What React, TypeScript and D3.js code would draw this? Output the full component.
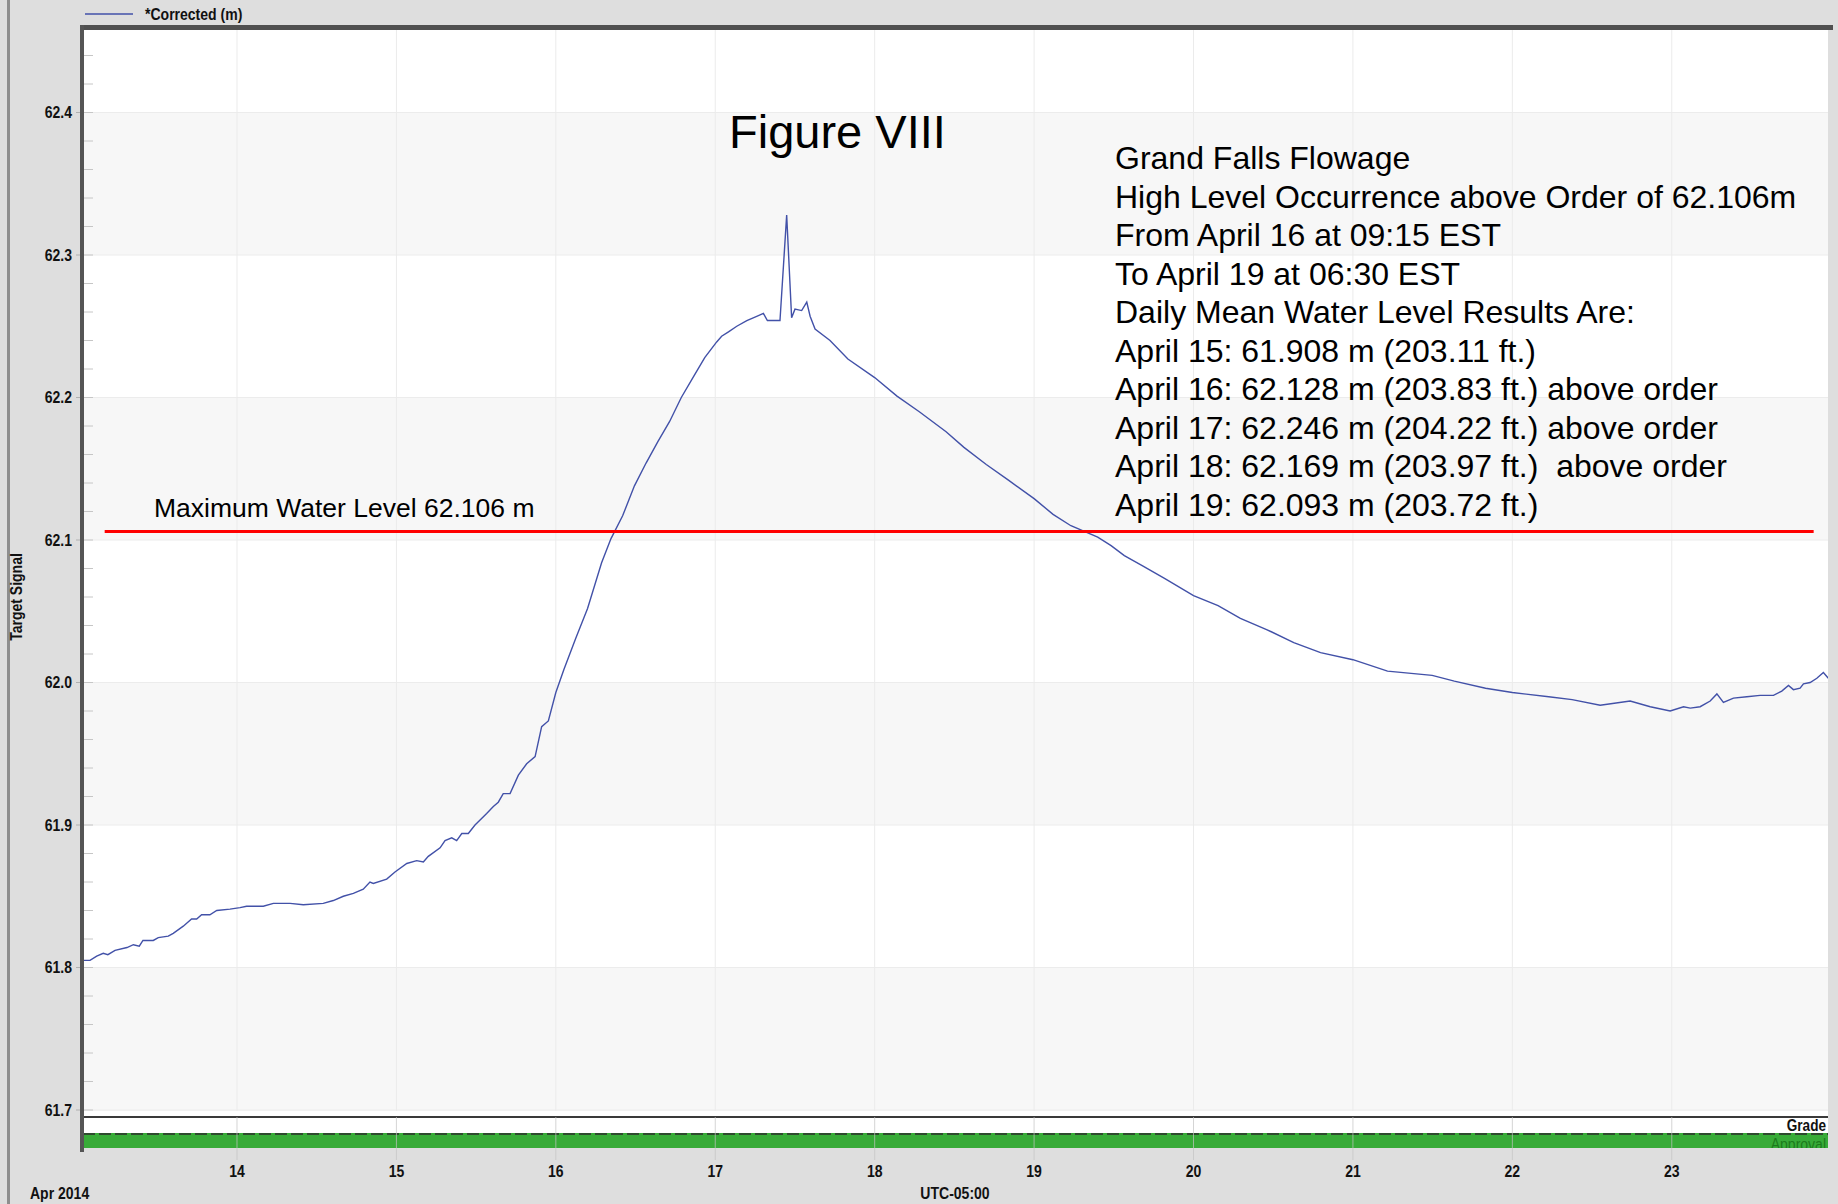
import React from "react";
import * as d3 from "d3";

// day of April 2014 (decimal) and corrected water level (m)
const days = [
  13.036, 13.078, 13.12, 13.161, 13.19, 13.235, 13.31, 13.35, 13.387, 13.41,
  13.475, 13.506, 13.569, 13.6, 13.663, 13.715, 13.747, 13.778, 13.83, 13.873,
  13.956, 14.019, 14.06, 14.165, 14.228, 14.333, 14.416, 14.541, 14.604, 14.667,
  14.73, 14.792, 14.834, 14.855, 14.939, 14.991, 15.065, 15.127, 15.169, 15.2,
  15.274, 15.305, 15.347, 15.378, 15.41, 15.451, 15.493, 15.566, 15.608, 15.639,
  15.67, 15.713, 15.765, 15.817, 15.87, 15.911, 15.953, 16.0, 16.05, 16.125,
  16.199, 16.287, 16.346, 16.419, 16.493, 16.566, 16.64, 16.713, 16.787, 16.86,
  16.934, 17.009, 17.04, 17.083, 17.135, 17.198, 17.26, 17.302, 17.327, 17.406,
  17.448, 17.479, 17.5, 17.542, 17.574, 17.595, 17.626, 17.72, 17.832, 18.0,
  18.14, 18.28, 18.448, 18.56, 18.7, 18.839, 19.0, 19.119, 19.231, 19.399,
  19.483, 19.566, 19.678, 19.818, 20.0, 20.154, 20.294, 20.462, 20.629, 20.797,
  21.0, 21.217, 21.497, 21.636, 21.832, 22.0, 22.228, 22.375, 22.551, 22.739,
  22.865, 22.99, 23.074, 23.116, 23.178, 23.241, 23.283, 23.324, 23.387, 23.471,
  23.554, 23.638, 23.69, 23.732, 23.763, 23.805, 23.826, 23.868, 23.91, 23.951,
  23.982,
];
const levels = [
  61.805, 61.805, 61.808, 61.81, 61.809, 61.812, 61.814, 61.816, 61.815, 61.819,
  61.819, 61.821, 61.822, 61.824, 61.829, 61.834, 61.834, 61.837, 61.837, 61.84,
  61.841, 61.842, 61.843, 61.843, 61.845, 61.845, 61.844, 61.845, 61.847, 61.85,
  61.852, 61.855, 61.86, 61.859, 61.862, 61.867, 61.873, 61.875, 61.874, 61.878,
  61.884, 61.889, 61.891, 61.889, 61.894, 61.894, 61.9, 61.908, 61.913, 61.916,
  61.922, 61.922, 61.935, 61.943, 61.948, 61.969, 61.973, 61.993, 62.009, 62.031,
  62.052, 62.084, 62.101, 62.117, 62.138, 62.154, 62.169, 62.183, 62.2, 62.214,
  62.228, 62.239, 62.243, 62.246, 62.25, 62.254, 62.257, 62.259, 62.254, 62.254,
  62.328, 62.256, 62.262, 62.261, 62.267, 62.257, 62.248, 62.24, 62.227, 62.214,
  62.201, 62.19, 62.176, 62.165, 62.153, 62.142, 62.129, 62.118, 62.11, 62.102,
  62.096, 62.089, 62.082, 62.073, 62.061, 62.054, 62.045, 62.037, 62.028, 62.021,
  62.016, 62.008, 62.005, 62.001, 61.996, 61.993, 61.99, 61.988, 61.984, 61.987,
  61.983, 61.98, 61.983, 61.982, 61.983, 61.987, 61.992, 61.986, 61.989, 61.99,
  61.991, 61.991, 61.994, 61.998, 61.995, 61.996, 61.999, 62.0, 62.003, 62.007,
  62.003,
];

const yTicks = [61.7, 61.8, 61.9, 62.0, 62.1, 62.2, 62.3, 62.4];
const dayTicks = [14, 15, 16, 17, 18, 19, 20, 21, 22, 23];
const orderLevel = 62.106;
const orderSpan = [13.17, 23.89];

const notes = [
  "Grand Falls Flowage",
  "High Level Occurrence above Order of 62.106m",
  "From April 16 at 09:15 EST",
  "To April 19 at 06:30 EST",
  "Daily Mean Water Level Results Are:",
  "April 15: 61.908 m (203.11 ft.)",
  "April 16: 62.128 m (203.83 ft.) above order",
  "April 17: 62.246 m (204.22 ft.) above order",
  "April 18: 62.169 m (203.97 ft.)  above order",
  "April 19: 62.093 m (203.72 ft.)",
];

const sans = "'Liberation Sans',Arial,Helvetica,sans-serif";

// condensed bold label, like the narrow font of the original software
function Narrow(props: {
  x: number;
  y: number;
  anchor?: string;
  size?: number;
  weight?: string;
  fill?: string;
  rotate?: boolean;
  dy?: string;
  clip?: string;
  children: React.ReactNode;
}) {
  const { x, y, anchor = "start", size = 16.5, weight = "bold", fill = "#111", rotate, dy, clip } = props;
  return (
    <g clipPath={clip}>
      <text
        transform={`translate(${x},${y})${rotate ? " rotate(-90)" : ""} scale(0.85,1)`}
        textAnchor={anchor}
        dy={dy}
        fontFamily={sans}
        fontWeight={weight}
        fontSize={size}
        fill={fill}
      >
        {props.children}
      </text>
    </g>
  );
}

export default function App() {
  const W = 1838;
  const H = 1204;
  const left = 83;
  const right = 1828;
  const top = 27;
  const bottom = 1111;

  const x = d3.scaleLinear().domain([13.034, 23.98]).range([left, right]);
  const y = d3.scaleLinear().domain([61.7, 62.4]).range([1110, 112.5]);

  const path = d3
    .line<number>()
    .x((_, i) => x(days[i]))
    .y((d) => y(d))(levels);

  const minor = d3.range(0, 39).map((i) => 61.7 + i * 0.02);
  const bands = [61.7, 61.9, 62.1, 62.3];

  return (
    <svg
      width={W}
      height={H}
      style={{ position: "absolute", left: 0, top: 0, display: "block" }}
    >
      <defs>
        <clipPath id="plotClip">
          <rect x={left} y={top} width={right - left} height={bottom - top} />
        </clipPath>
        <clipPath id="apprClip">
          <rect x={left} y={1133} width={right - left} height={15} />
        </clipPath>
      </defs>
      <rect width={W} height={H} fill="#dedede" />
      <rect x={7} y={0} width={3} height={H} fill="#8e8e8e" />

      {/* plot background with alternating bands */}
      <rect x={left} y={top} width={right - left} height={bottom - top} fill="#fff" />
      {bands.map((b) => (
        <rect
          key={b}
          x={left}
          y={y(b + 0.1)}
          width={right - left}
          height={(b === 61.7 ? bottom : y(b)) - y(b + 0.1)}
          fill="#f7f7f7"
        />
      ))}
      {yTicks.map((t) => (
        <line key={t} x1={left} x2={right} y1={y(t)} y2={y(t)} stroke="#ececec" />
      ))}
      {dayTicks.map((d) => (
        <line key={d} x1={x(d)} x2={x(d)} y1={top} y2={bottom} stroke="#ebebeb" />
      ))}

      {/* grade / approval strip */}
      <rect x={left} y={bottom} width={right - left} height={22} fill="#fff" />
      <line x1={left} x2={right} y1={1117} y2={1117} stroke="#3a3a3a" strokeWidth={2} />
      <Narrow x={1826} y={1131} anchor="end" size={16}>
        Grade
      </Narrow>
      <rect x={left} y={1133} width={right - left} height={15} fill="#38ab38" />
      <line
        x1={left}
        x2={right}
        y1={1134}
        y2={1134}
        stroke="#2b2b2b"
        strokeWidth={2}
        strokeDasharray="12 4"
        opacity={0.75}
      />
      <Narrow x={1826} y={1150} anchor="end" size={16.5} weight="normal" fill="#1c7a1c" clip="url(#apprClip)">
        Approval
      </Narrow>
      {dayTicks.map((d) => (
        <line key={d} x1={x(d)} x2={x(d)} y1={1117} y2={1160} stroke="#c4c4c4" opacity={0.7} />
      ))}

      {/* y axis ticks */}
      {minor.map((m, i) => (
        <line key={i} x1={left} x2={93} y1={y(m)} y2={y(m)} stroke="#c6c6c6" />
      ))}
      {yTicks.map((t) => (
        <g key={t}>
          <line x1={76} x2={82} y1={y(t)} y2={y(t)} stroke="#b0b0b0" />
          <Narrow x={72} y={y(t)} dy="0.35em" anchor="end">
            {t.toFixed(1)}
          </Narrow>
        </g>
      ))}
      <Narrow x={22} y={597} anchor="middle" rotate>
        Target Signal
      </Narrow>

      {/* x axis labels */}
      {dayTicks.map((d) => (
        <Narrow key={d} x={x(d)} y={1177} anchor="middle">
          {d}
        </Narrow>
      ))}
      <Narrow x={30} y={1199}>
        Apr 2014
      </Narrow>
      <Narrow x={955} y={1199} anchor="middle">
        UTC-05:00
      </Narrow>

      {/* series */}
      <g clipPath="url(#plotClip)">
        <path d={path ?? ""} fill="none" stroke="#4251a8" strokeWidth={1.4} />
        <line
          x1={x(orderSpan[0])}
          x2={x(orderSpan[1])}
          y1={y(orderLevel)}
          y2={y(orderLevel)}
          stroke="#ff0000"
          strokeWidth={3}
        />
      </g>

      {/* frame */}
      <rect x={80} y={25} width={1753} height={5} fill="#505050" />
      <rect x={80} y={25} width={4} height={1127} fill="#555" />

      {/* legend */}
      <line x1={85} x2={133} y1={14} y2={14} stroke="#4251a8" strokeWidth={1.5} />
      <Narrow x={145} y={19.5}>
        *Corrected (m)
      </Narrow>

      {/* annotations */}
      <text x={729} y={148} fontFamily={sans} fontSize={47} fill="#000">
        Figure VIII
      </text>
      <text x={154} y={517} fontFamily={sans} fontSize={26.5} fill="#000">
        Maximum Water Level 62.106 m
      </text>
      {notes.map((n, i) => (
        <text
          key={i}
          x={1115}
          y={169 + i * 38.5}
          fontFamily={sans}
          fontSize={32}
          fill="#000"
          style={{ whiteSpace: "pre" }}
        >
          {n}
        </text>
      ))}
    </svg>
  );
}
